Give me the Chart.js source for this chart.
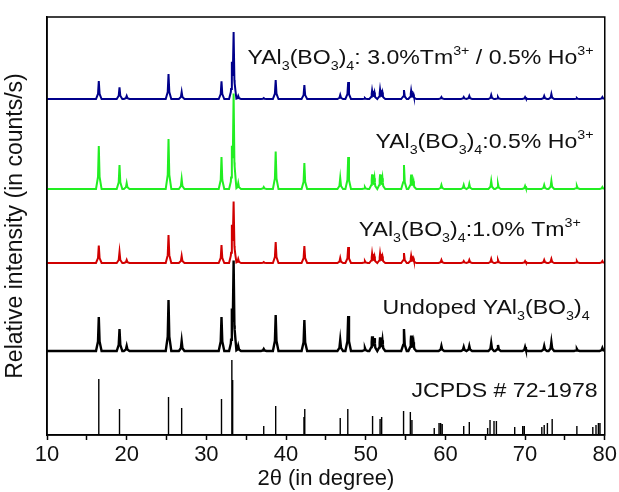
<!DOCTYPE html>
<html>
<head>
<meta charset="utf-8">
<script src="https://cdn.jsdelivr.net/npm/chart.js@4.4.1/dist/chart.umd.min.js"></script>
<style>
  html, body { margin: 0; padding: 0; background: #fff; }
</style>
</head>
<body>
<canvas id="xrd" width="619" height="492"></canvas>
<script>
// 2θ positions of the peaks seen in the measured patterns
const peakPos = [16.5, 19.1, 20.0, 25.25, 26.9, 31.9, 33.2, 33.42, 34.0, 37.2, 38.7, 42.3,
  46.8, 47.8, 49.9, 50.8, 51.1, 51.8, 52.1, 54.8, 55.7, 56.0, 59.5, 62.3, 63.0, 65.75,
  66.6, 70.0, 72.4, 73.3, 76.5, 79.7];
// peak heights (arb. units) for each sample, same order as peakPos
const undoped = [34, 22, 5, 51, 10, 34, 30, 86, 5, 2, 36, 31, 11, 35, 3, 14, 12, 13, 10, 22, 15, 8, 5, 4, 5, 8, 6, 4, 5, 9, 2, 3];
const tm10 = [17.5, 11, 3, 28, 7, 18, 30, 57, 4, 1, 21, 17, 5, 16, 2, 9, 6, 9, 6, 10, 7, 4, 3, 2, 3, 4, 3, 2, 3, 4, 2, 2];
const ho05 = [43, 24, 6, 50, 10, 32, 30, 91, 6, 2, 37.5, 26, 11, 32, 2, 14, 10, 14, 10, 24, 14, 7, 4, 4, 5, 8, 5, 3, 4, 8, 3, 2];
const tmHo = [18, 11.6, 3, 25, 7, 17.6, 28, 63, 3, 1, 19, 14, 4, 17, 1, 8, 6, 9, 6, 9, 8, 4, 2, 2, 3, 4, 2, 2, 3, 5, 1, 2];
// vertical offset of each pattern in the stack
const offsets = { undoped: 84, tm10: 172, ho05: 246, tmHo: 336 };

// JCPDS # 72-1978 reference lines
const refPos = [16.5, 19.1, 25.25, 26.9, 31.9, 33.2, 33.3, 37.2, 38.7, 42.25, 42.35, 46.8, 47.75,
  50.8, 50.9, 51.8, 52.0, 54.75, 55.6, 55.8, 58.6, 59.2, 59.4, 59.6, 62.3, 63.0, 65.3, 65.6,
  66.1, 66.4, 68.7, 69.7, 69.9, 72.1, 72.4, 72.8, 73.4, 76.5, 78.5, 78.9, 79.2, 79.4];
const refInt = [56, 26, 38, 27, 36, 75, 55, 9, 29, 18, 26, 17, 26, 19, 16, 16, 18, 24, 23, 15,
  7, 12, 12, 11, 9, 13, 7, 15, 14, 14, 8, 9, 9, 8, 10, 12, 16, 9, 8, 10, 12, 12];

const xTicks = [10, 20, 30, 40, 50, 60, 70, 80];

// narrow peak outline built from the listed peaks
function pattern(pos, heights, base) {
  const shape = [-0.35, -0.1, 0, 0.1, 0.35];
  const xs = new Set([10, 80]);
  pos.forEach(p => shape.forEach(d => xs.add(+(p + d).toFixed(3))));
  return [...xs].sort((a, b) => a - b).map(x => {
    let y = base;
    pos.forEach((p, i) => {
      const d = Math.abs(x - p);
      if (d < 0.1) y += heights[i] * (1 - 0.72 * d / 0.1);
      else if (d < 0.35) y += heights[i] * 0.28 * (0.35 - d) / 0.25;
    });
    return { x: x, y: y };
  });
}

function sticks(pos, h) {
  const out = [];
  pos.forEach((p, i) => { out.push({ x: p, y: 0 }, { x: p, y: h[i] }, { x: p, y: 0 }); });
  return out;
}

// text labels: [segments, right edge (2θ), baseline (y value)]
const labels = [
  [[['YAl'], ['3', 'sub'], ['(BO'], ['3', 'sub'], [')'], ['4', 'sub'], [': 3.0%Tm'], ['3+', 'sup'], [' / 0.5% Ho'], ['3+', 'sup']], 78.6, 371.5],
  [[['YAl'], ['3', 'sub'], ['(BO'], ['3', 'sub'], [')'], ['4', 'sub'], [':0.5% Ho'], ['3+', 'sup']], 78.6, 287.5],
  [[['YAl'], ['3', 'sub'], ['(BO'], ['3', 'sub'], [')'], ['4', 'sub'], [':1.0% Tm'], ['3+', 'sup']], 77.0, 199],
  [[['Undoped YAl'], ['3', 'sub'], ['(BO'], ['3', 'sub'], [')'], ['4', 'sub']], 78.1, 121],
  [[['JCPDS # 72-1978']], 79.1, 38.3]
];

const FONT = "'Liberation Sans', Arial, sans-serif";

const labelPlugin = {
  id: 'labels',
  afterDraw(chart) {
    const c = chart.ctx, xs = chart.scales.x, ys = chart.scales.y;
    const stretch = 1.1;
    c.save();
    c.fillStyle = '#111';
    c.textBaseline = 'alphabetic';
    labels.forEach(([segs, xr, yb]) => {
      let w = 0;
      segs.forEach(s => {
        c.font = (s[1] ? 13 : 21) + 'px ' + FONT;
        w += c.measureText(s[0]).width;
      });
      let x = xs.getPixelForValue(xr) - w * stretch;
      const y = ys.getPixelForValue(yb);
      segs.forEach(s => {
        c.font = (s[1] ? 13 : 21) + 'px ' + FONT;
        const dy = s[1] === 'sub' ? 6 : (s[1] === 'sup' ? -9 : 0);
        c.save();
        c.translate(x, y + dy);
        c.scale(stretch, 1);
        c.fillText(s[0], 0, 0);
        c.restore();
        x += c.measureText(s[0]).width * stretch;
      });
    });
    c.restore();
  }
};

const framePlugin = {
  id: 'frame',
  afterDatasetsDraw(chart) {
    const a = chart.chartArea, c = chart.ctx;
    c.save();
    c.strokeStyle = '#000';
    c.lineWidth = 1.5;
    c.strokeRect(a.left, a.top, a.right - a.left, a.bottom - a.top);
    c.restore();
  }
};

new Chart(document.getElementById('xrd'), {
  type: 'line',
  data: {
    datasets: [
      { label: 'JCPDS # 72-1978', data: sticks(refPos, refInt), borderColor: '#000', borderWidth: 1.4 },
      { label: 'Undoped', data: pattern(peakPos, undoped, offsets.undoped), borderColor: '#000', borderWidth: 2.4 },
      { label: '1.0% Tm', data: pattern(peakPos, tm10, offsets.tm10), borderColor: '#d10000', borderWidth: 2 },
      { label: '0.5% Ho', data: pattern(peakPos, ho05, offsets.ho05), borderColor: '#22ee22', borderWidth: 2 },
      { label: '3.0% Tm / 0.5% Ho', data: pattern(peakPos, tmHo, offsets.tmHo), borderColor: '#00008b', borderWidth: 2 }
    ]
  },
  options: {
    responsive: false,
    animation: false,
    devicePixelRatio: 1,
    layout: { padding: { top: 17, right: 12, left: 0, bottom: 0 } },
    elements: { point: { radius: 0 }, line: { tension: 0 } },
    plugins: { legend: { display: false }, tooltip: { enabled: false } },
    scales: {
      x: {
        type: 'linear', min: 10, max: 80,
        afterFit: s => { s.height = 57; },
        ticks: {
          stepSize: 5, autoSkip: false, maxRotation: 0, padding: 2,
          color: '#111', font: { family: FONT, size: 22 },
          callback: v => xTicks.includes(v) ? v : ''
        },
        grid: { display: true, drawOnChartArea: false, drawTicks: true, tickLength: 5, tickColor: '#000', tickWidth: 1.5 },
        border: { color: '#000', width: 1.5 },
        title: { display: true, text: '2θ (in degree)', color: '#111', font: { family: FONT, size: 22 }, padding: { top: 0, bottom: 0 } }
      },
      y: {
        min: 0, max: 418,
        afterFit: s => { s.width = 47; },
        ticks: { display: false },
        grid: { display: false },
        border: { color: '#000', width: 1.5 },
        title: { display: true, text: 'Relative intensity (in counts/s)', color: '#111', font: { family: FONT, size: 23 }, padding: { top: 2, bottom: 0 } }
      }
    }
  },
  plugins: [framePlugin, labelPlugin]
});
</script>
</body>
</html>
